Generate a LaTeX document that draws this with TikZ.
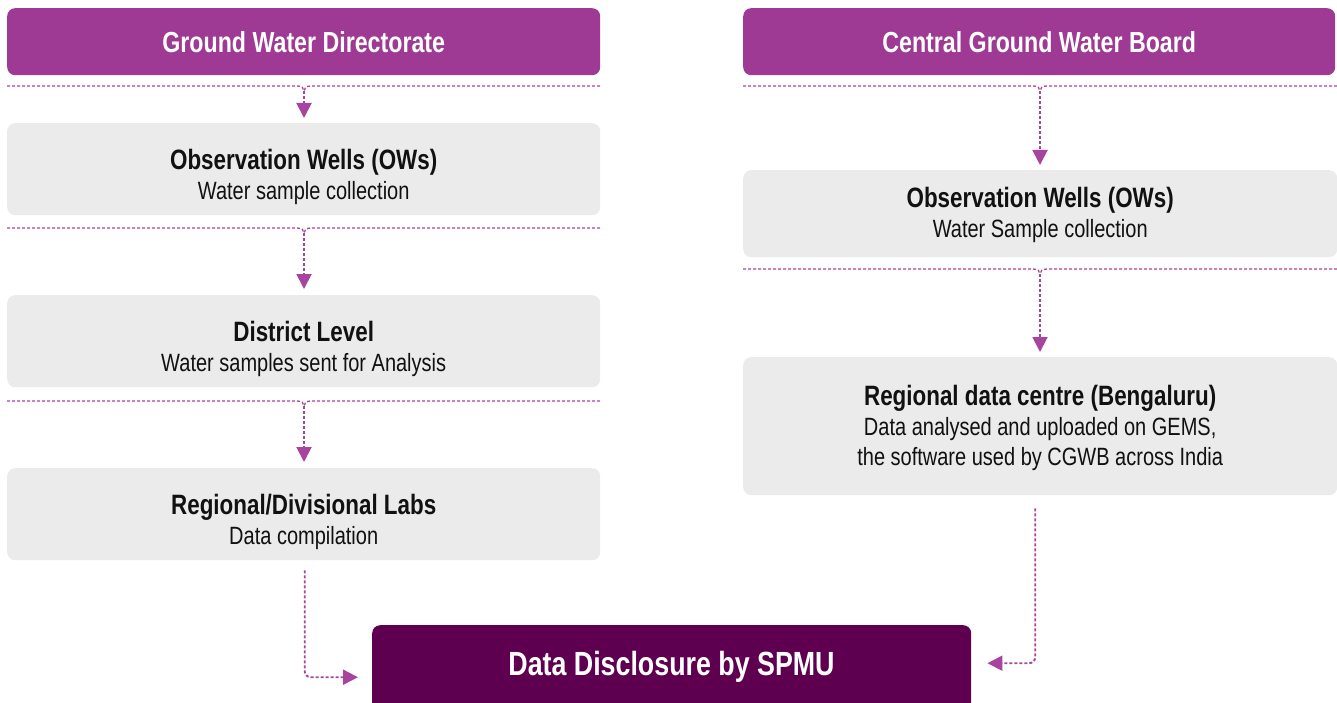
\documentclass[tikz,border=0pt]{standalone}
\usepackage{fontspec}
\setmainfont{Liberation Sans}[FakeStretch=0.8]
\usetikzlibrary{arrows.meta}
\definecolor{hdrpurple}{HTML}{9E3A93}
\definecolor{darkplum}{HTML}{5E004F}
\definecolor{boxgrey}{HTML}{EBEBEB}
\definecolor{linepurple}{HTML}{A844A0}
\definecolor{txtblack}{HTML}{111111}
\newcommand{\myhead}{\bfseries\fontsize{28}{30}\selectfont}
\begin{document}
\begin{tikzpicture}[x=1pt,y=-1pt,
  hdr/.style={fill=hdrpurple, rounded corners=8pt, inner sep=0pt, text=white,
    anchor=north west, font=\fontsize{29}{34}\selectfont\bfseries},
  gbox/.style={fill=boxgrey, rounded corners=8pt, inner sep=0pt, anchor=north west},
  boxtxt/.style={align=center, text=txtblack, inner sep=0pt, font=\fontsize{25}{30}\selectfont},
  sepline/.style={draw=linepurple, line width=1.3pt, dash pattern=on 3pt off 2pt},
  flow/.style={draw=linepurple, line width=1.9pt, dash pattern=on 3pt off 2pt,
    -{Triangle[width=15pt,length=15pt]}}
]
\useasboundingbox (0,0) rectangle (1337,703);

% ---------------- left column ----------------
\node[hdr, minimum width=593pt, minimum height=67pt] (gwd) at (7,8) {Ground Water Directorate};

\node[gbox, minimum width=593pt, minimum height=92pt] (ow1) at (7,123) {};
\node[boxtxt, yshift=-7.5pt] (ow1t) at (ow1.center) {{\myhead Observation Wells (OWs)}\\Water sample collection};

\node[gbox, minimum width=593pt, minimum height=92pt] (dist) at (7,295) {};
\node[boxtxt, yshift=-7.5pt] (distt) at (dist.center) {{\myhead District Level}\\Water samples sent for Analysis};

\node[gbox, minimum width=593pt, minimum height=92pt] (reg) at (7,468) {};
\node[boxtxt, yshift=-7.5pt] (regt) at (reg.center) {{\myhead Regional/Divisional Labs}\\Data compilation};

% ---------------- right column ----------------
\node[hdr, minimum width=592pt, minimum height=67pt, yshift=-1.5pt] (cgwb) at (743,6.5) {Central Ground Water Board};

\node[gbox, minimum width=594pt, minimum height=87pt] (ow2) at (743,170) {};
\node[boxtxt, yshift=-1.5pt] (ow2t) at (ow2.center) {{\myhead Observation Wells (OWs)}\\Water Sample collection};

\node[gbox, minimum width=594pt, minimum height=138pt] (rdc) at (743,357) {};
\node[boxtxt, yshift=-1.5pt] (rdct) at (rdc.center) {{\myhead Regional data centre (Bengaluru)}\\Data analysed and uploaded on GEMS,\\the software used by CGWB across India};

% ---------------- bottom ----------------
\node[fill=darkplum, rounded corners=8pt, inner sep=0pt, anchor=north west,
  minimum width=599pt, minimum height=90pt] (spmu) at (372,625) {};
\node[text=white, inner sep=0pt, font=\fontsize{33.5}{38}\selectfont\bfseries] (spmut) at (671.5,666.5) {Data Disclosure by SPMU};

% ---------------- separators with dips ----------------
\coordinate (a1l) at (7,86);   \coordinate (a1r) at (600,86);  \coordinate (a1) at (304,91);
\coordinate (a2l) at (7,228);  \coordinate (a2r) at (600,228); \coordinate (a2) at (304,233);
\coordinate (a3l) at (7,401);  \coordinate (a3r) at (600,401); \coordinate (a3) at (304,406);
\coordinate (b1l) at (743,86); \coordinate (b1r) at (1337,86); \coordinate (b1) at (1040,91);
\coordinate (b2l) at (743,269);\coordinate (b2r) at (1337,269);\coordinate (b2) at (1040,274);

\foreach \c in {a1,a2,a3,b1,b2}{
  \draw[sepline] (\c l) -- ([xshift=-7pt,yshift=5pt]\c) .. controls ([xshift=-2pt,yshift=5pt]\c) and ([yshift=3pt]\c) .. (\c);
  \draw[sepline] (\c r) -- ([xshift=7pt,yshift=5pt]\c) .. controls ([xshift=2pt,yshift=5pt]\c) and ([yshift=3pt]\c) .. (\c);
}

% ---------------- flow arrows ----------------
\draw[flow, shorten >=5pt] (a1) -- (a1 |- ow1.north);
\draw[flow, shorten >=6pt] (a2) -- (a2 |- dist.north);
\draw[flow, shorten >=6pt] (a3) -- (a3 |- reg.north);
\draw[flow, shorten >=5pt] (b1) -- (b1 |- ow2.north);
\draw[flow, shorten >=5pt] (b2) -- (b2 |- rdc.north);

\draw[flow, rounded corners=6pt, shorten <=10pt, shorten >=14pt]
  ([xshift=1pt]reg.south) |- ([yshift=-7pt]spmu.west);
\draw[flow, rounded corners=6pt, shorten <=13pt, shorten >=16pt]
  ([xshift=-5pt]rdc.south) |- ([yshift=7pt]spmu.east);
\end{tikzpicture}
\end{document}
